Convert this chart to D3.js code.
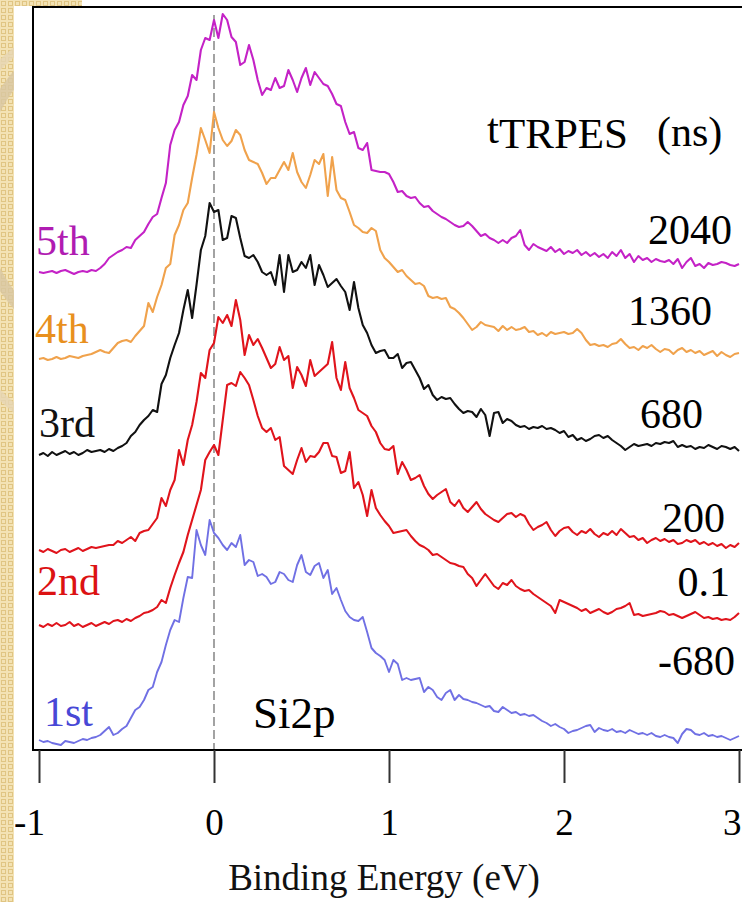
<!DOCTYPE html>
<html><head><meta charset="utf-8">
<script src="https://cdn.jsdelivr.net/npm/d3@7"></script>
<style>
html,body{margin:0;padding:0;background:#fff;}
svg{display:block;}
svg text{font-family:"Liberation Serif","Times New Roman","Tinos","DejaVu Serif","Noto Serif",serif;}
</style>
</head><body>
<svg id="chart" width="742" height="902"></svg>
<script>
// ---------- data ----------
const energyStart = -1;      // eV
const energyStep = 0.025;    // eV sampling step of the spectra
const tickValues = [-1, 0, 1, 2, 3];
const tickLabels = ["-1", "0", "1", "2", "3"];
const orderLabels = ["1st", "2nd", "3rd", "4th", "5th"];
const delayLabels = ["-680", "0.1", "200", "680", "1360", "2040"];
const xTitle = "Binding Energy (eV)";
const yTitleT = "t", yTitleMain = "TRPES", yTitleUnit = "(ns)";
const coreLevel = "Si2p";

// intensities (arb. units, stacked with offsets), one value per energy step
const s1st = [9,7,8,6,5,4,8,7,6,8,10,9,11,12,
14,18,22,14,16,20,23,31,39,42,49,59,62,77,
87,104,119,129,127,151,172,171,219,204,194,229,216,
211,204,199,206,202,214,184,189,187,173,175,172,165,
167,177,175,169,167,184,194,177,174,183,186,171,179,
155,161,149,138,132,129,128,132,117,101,96,93,89,
77,89,85,69,71,69,70,71,57,62,59,52,49,
56,59,49,54,50,49,47,46,44,42,43,38,37,
42,39,36,37,34,35,33,34,31,28,26,23,25,
22,20,16,18,19,21,23,24,17,21,19,18,20,
17,18,16,19,17,15,16,14,16,13,12,14,12,
11,6,15,20,19,15,14,16,13,14,12,13,11,9,11,13];

const s2nd = [124,122,125,123,126,123,124,127,123,125,122,124,126,123,
125,127,125,128,129,127,130,128,131,133,136,137,139,142,
149,146,161,174,186,197,214,229,244,259,289,297,304,
294,329,364,366,363,377,371,364,349,333,321,317,321,
309,312,283,279,275,289,301,287,293,292,297,306,306,
293,292,276,278,297,261,267,254,233,259,241,234,228,
223,216,217,218,219,213,208,204,202,199,194,195,192,
189,186,185,183,182,175,171,163,169,175,169,163,160,
166,164,169,163,160,158,159,155,152,149,146,143,136,
149,147,145,143,141,138,140,136,138,140,137,135,137,
140,141,143,146,134,135,133,134,135,136,138,137,134,
135,133,131,133,135,137,134,131,132,130,131,129,130,129,132,136];

const s200 = [199,197,200,198,196,199,200,197,199,201,198,200,202,201,
202,203,204,204,208,206,209,212,208,216,218,219,225,231,
251,243,259,269,299,284,309,324,347,376,371,399,406,
432,426,434,423,449,429,394,414,404,410,401,391,381,
385,402,389,393,361,382,374,363,389,373,377,381,385,
407,371,359,387,361,351,339,336,333,323,317,306,300,
299,303,275,287,279,269,271,274,263,255,250,254,257,
260,247,243,249,241,237,242,247,240,235,232,229,227,
231,235,236,232,235,233,225,219,222,224,227,219,213,
218,221,222,217,214,218,216,220,215,212,216,214,218,
214,220,216,212,213,209,211,206,209,211,208,210,207,
209,205,206,209,207,209,205,207,204,206,203,205,201,204,202,206];

const s3rd = [294,296,293,297,294,296,298,295,297,294,296,299,297,298,
299,297,300,298,301,303,306,313,317,324,329,333,339,337,
365,374,391,404,416,439,459,431,464,499,513,546,537,
539,509,511,533,531,511,493,491,494,487,477,474,477,
464,494,457,494,477,479,487,481,494,464,484,474,462,
466,470,463,457,439,467,441,424,416,404,396,398,399,
391,391,395,381,386,387,379,371,360,364,354,349,352,
350,351,345,340,336,338,337,332,340,334,313,336,337,
326,330,328,324,322,323,320,322,321,323,320,321,319,
316,318,312,314,309,311,308,310,313,314,311,313,309,
306,303,299,302,305,303,304,305,303,306,305,307,306,
308,302,304,302,303,300,302,301,304,302,300,303,302,300,302,298];

const s4th = [390,391,389,390,392,390,391,393,392,391,393,394,395,397,
399,397,396,401,406,408,409,407,413,418,423,446,437,452,
464,481,485,514,524,539,546,571,594,621,609,596,637,
621,609,603,608,619,614,599,589,587,585,576,565,571,
571,579,587,579,596,577,567,561,574,589,585,595,553,
592,559,551,549,537,524,521,517,516,521,518,499,491,
487,482,477,479,473,469,465,466,463,453,451,452,450,
451,442,440,436,431,425,419,422,427,424,423,422,418,
423,419,422,419,420,422,417,418,414,416,413,417,415,
416,417,415,416,420,416,409,404,405,403,404,402,405,
406,410,405,401,402,399,403,401,404,400,397,400,399,
395,399,401,397,399,396,398,394,396,398,393,397,394,392,395,396];

const s5th = [477,476,477,478,476,478,479,477,475,477,478,477,479,478,
481,485,491,494,497,499,502,501,509,513,517,525,532,535,
551,566,604,619,627,644,653,674,669,699,711,709,729,
711,735,729,712,707,684,687,704,689,669,654,661,659,
671,661,663,679,669,657,671,681,664,677,671,665,663,
655,645,643,627,615,617,601,599,606,579,578,577,577,
575,567,557,558,553,551,552,546,542,543,538,535,532,
530,527,524,522,523,527,523,518,513,515,511,509,506,
509,506,511,513,519,504,499,505,502,500,498,502,497,
500,495,498,496,499,494,497,493,496,492,495,491,497,
493,499,491,495,487,493,489,491,487,490,488,487,489,
485,490,481,487,491,483,485,481,486,484,485,487,486,484,483,485];

const seriesList = [s1st, s2nd, s200, s3rd, s4th, s5th];

// ---------- styles ----------
const lineColors = ["#7070e4", "#e0141c", "#e0141c", "#111111", "#f0a24c", "#c422c6"];
const orderColors = ["#4848d6", "#dc1212", "#111111", "#e8901e", "#b01cb2"];

// ---------- drawing ----------
const svg = d3.select("#chart");
const defs = svg.append("defs");
const pat = defs.append("pattern").attr("id", "tex")
  .attr("width", 7).attr("height", 7).attr("patternUnits", "userSpaceOnUse");
pat.append("rect").attr("width", 7).attr("height", 7).attr("fill", "#f3e2b4");
pat.append("rect").attr("x", 1.5).attr("y", 1.5).attr("width", 4).attr("height", 4)
  .attr("fill", "none").attr("stroke", "#e0c583").attr("stroke-width", 1);

svg.append("rect").attr("width", 742).attr("height", 902).attr("fill", "url(#tex)");
svg.append("circle").attr("cx", 150).attr("cy", 190).attr("r", 175)
  .attr("fill", "none").attr("stroke", "#d8c7a2").attr("stroke-width", 12).attr("opacity", 0.8);
svg.append("circle").attr("cx", 160).attr("cy", 230).attr("r", 230)
  .attr("fill", "none").attr("stroke", "#e6d6b4").attr("stroke-width", 8).attr("opacity", 0.8);
svg.append("rect").attr("x", 14).attr("y", 6).attr("width", 728).attr("height", 896).attr("fill", "#fff");
svg.append("rect").attr("x", 82).attr("y", 0).attr("width", 660).attr("height", 7).attr("fill", "#fff");

const x = d3.scaleLinear().domain([-1, 3]).range([39, 739]);
const y = d3.scaleLinear().domain([0, 742]).range([749, 7]);

// dashed reference line at 0 eV
svg.append("line")
  .attr("x1", x(0)).attr("x2", x(0)).attr("y1", 15).attr("y2", 749)
  .attr("stroke", "#8c8c8c").attr("stroke-width", 1.6).attr("stroke-dasharray", "9,4");

const line = d3.line()
  .x((d, i) => x(energyStart + i * energyStep))
  .y(d => y(d));

seriesList.forEach((s, k) => {
  svg.append("path").datum(s)
    .attr("d", line)
    .attr("fill", "none")
    .attr("stroke", lineColors[k])
    .attr("stroke-width", k === 0 ? 1.9 : 2.1)
    .attr("stroke-linejoin", "round");
});

// frame
svg.append("line").attr("x1", 33).attr("x2", 742).attr("y1", 7).attr("y2", 7)
  .attr("stroke", "#000").attr("stroke-width", 2.2);
svg.append("line").attr("x1", 33).attr("x2", 33).attr("y1", 6).attr("y2", 751)
  .attr("stroke", "#000").attr("stroke-width", 2);
svg.append("line").attr("x1", 32).attr("x2", 742).attr("y1", 750).attr("y2", 750)
  .attr("stroke", "#000").attr("stroke-width", 2);

// x axis
const axis = d3.axisBottom(x).tickValues(tickValues)
  .tickFormat((d, i) => tickLabels[i]).tickSize(33).tickPadding(26);
const gx = svg.append("g").attr("transform", "translate(0,750)").call(axis);
gx.select(".domain").remove();
gx.attr("font-family", null);
gx.selectAll(".tick line").attr("stroke", "#333").attr("stroke-width", 2);
gx.selectAll(".tick text")
  .attr("font-size", 37).attr("fill", "#000")
  .attr("text-anchor", d => d === 3 ? "end" : "middle")
  .attr("dx", d => d < 0 ? -10 : (d === 3 ? 2 : 0));

svg.append("text").attr("x", 384).attr("y", 890)
  .attr("text-anchor", "middle").attr("font-size", 37)
  .attr("fill", "#111").text(xTitle);

// order labels on the left
const orderPos = [[44, 726], [37, 595], [39, 437], [35, 343], [36, 255]];
orderLabels.forEach((t, k) => {
  svg.append("text").attr("x", orderPos[k][0]).attr("y", orderPos[k][1])
    .attr("font-size", 42).attr("fill", orderColors[k]).text(t);
});

// delay labels on the right
const delayPos = [[735, 675], [730, 596], [725, 532], [703, 428], [712, 325], [732, 244]];
delayLabels.forEach((t, k) => {
  svg.append("text").attr("x", delayPos[k][0]).attr("y", delayPos[k][1])
    .attr("text-anchor", "end").attr("font-size", 42)
    .attr("fill", "#000").text(t);
});

// header
const head = svg.append("text").attr("x", 487).attr("y", 148)
  .attr("font-size", 43).attr("fill", "#000");
head.append("tspan").attr("dy", -5).text(yTitleT);
head.append("tspan").attr("dy", 5).text(yTitleMain);
svg.append("text").attr("x", 657).attr("y", 146)
  .attr("font-size", 42).attr("fill", "#000").text(yTitleUnit);

svg.append("text").attr("x", 253).attr("y", 728)
  .attr("font-size", 45).attr("fill", "#000").text(coreLevel);
</script>
</body></html>
